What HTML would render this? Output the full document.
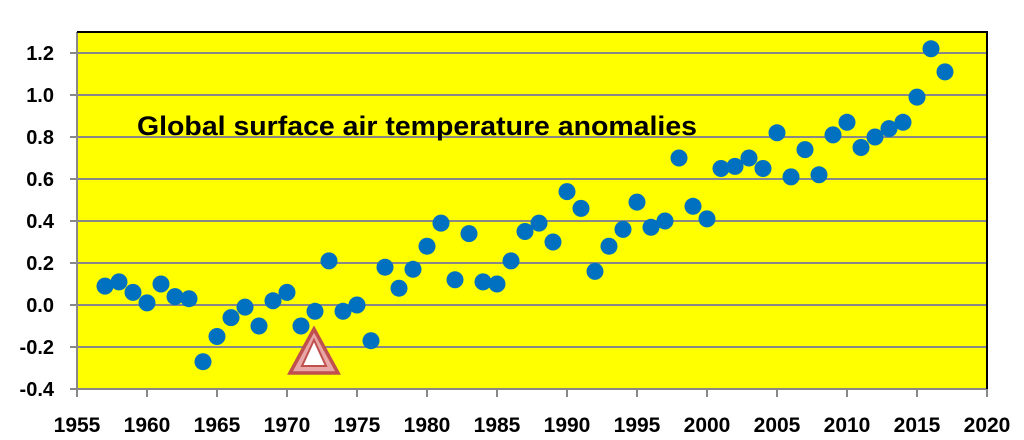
<!DOCTYPE html>
<html><head><meta charset="utf-8"><style>body{margin:0;background:#fff}svg{display:block}</style></head>
<body>
<svg width="1024" height="440" xmlns="http://www.w3.org/2000/svg" font-family="Liberation Sans, sans-serif">
<rect x="77" y="32" width="910" height="357" fill="#ffff00"/>
<g stroke="#888" stroke-width="2">
<line x1="70" y1="53" x2="987" y2="53"/><line x1="70" y1="95" x2="987" y2="95"/>
<line x1="70" y1="137" x2="987" y2="137"/><line x1="70" y1="179" x2="987" y2="179"/>
<line x1="70" y1="221" x2="987" y2="221"/><line x1="70" y1="263" x2="987" y2="263"/>
<line x1="70" y1="305" x2="987" y2="305"/><line x1="70" y1="347" x2="987" y2="347"/>
<line x1="70" y1="389" x2="987" y2="389"/>
<line x1="77" y1="32" x2="77" y2="396"/>
</g>
<g stroke="#888" stroke-width="2" id="xt"></g>
<polyline points="77,32 987,32 987,389" fill="none" stroke="#000" stroke-width="2"/>
<g font-weight="bold" font-size="20" text-anchor="end" fill="#000">
<text x="54" y="60">1.2</text><text x="54" y="102">1.0</text><text x="54" y="144">0.8</text>
<text x="54" y="186">0.6</text><text x="54" y="228">0.4</text><text x="54" y="270">0.2</text>
<text x="54" y="312">0.0</text><text x="54" y="354">-0.2</text><text x="54" y="396">-0.4</text>
</g>
<g font-weight="bold" font-size="21" text-anchor="middle" fill="#000" id="xl"></g>
<text x="137" y="135" font-weight="bold" font-size="27" textLength="560" lengthAdjust="spacingAndGlyphs">Global surface air temperature anomalies</text>
<polygon points="314,329 290,373 338,373" fill="#e8a6a6" stroke="#c0504d" stroke-width="3.5"/>
<polygon points="314,340 302,366 326,366" fill="#fff" stroke="#c0504d" stroke-width="2"/>
<g fill="#0070c0" id="dots"></g>
<script>
var d=[.09,.11,.06,.01,.10,.04,.03,-.27,-.15,-.06,-.01,-.10,.02,.06,-.10,-.03,.21,-.03,.00,-.17,.18,.08,.17,.28,.39,.12,.34,.11,.10,.21,.35,.39,.30,.54,.46,.16,.28,.36,.49,.37,.40,.70,.47,.41,.65,.66,.70,.65,.82,.61,.74,.62,.81,.87,.75,.80,.84,.87,.99,1.22,1.11];
var ns="http://www.w3.org/2000/svg",g=document.getElementById('dots');
d.forEach(function(v,i){var c=document.createElementNS(ns,'circle');c.setAttribute('cx',77+(1957+i-1955)*14);c.setAttribute('cy',305-v*210);c.setAttribute('r',8.5);g.appendChild(c);});
var xt=document.getElementById('xt'),xl=document.getElementById('xl');
for(var y=1955;y<=2020;y+=5){var x=77+(y-1955)*14;
var l=document.createElementNS(ns,'line');l.setAttribute('x1',x);l.setAttribute('x2',x);l.setAttribute('y1',389);l.setAttribute('y2',397);xt.appendChild(l);
var t=document.createElementNS(ns,'text');t.setAttribute('x',x);t.setAttribute('y',432);t.textContent=y;xl.appendChild(t);}
</script>
</svg>
</body></html>
